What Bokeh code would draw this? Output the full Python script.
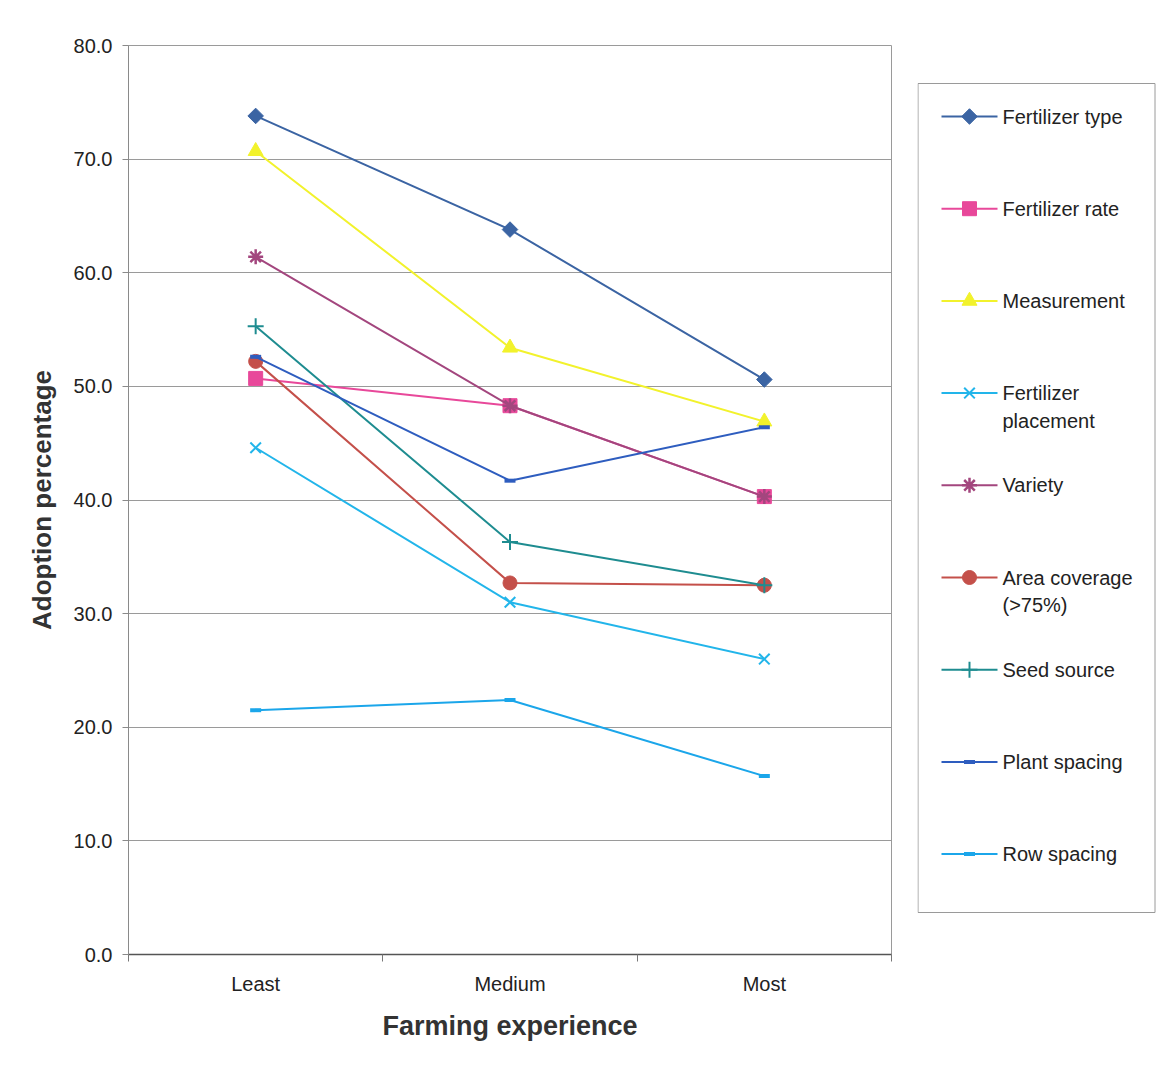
from bokeh.plotting import figure
from bokeh.layouts import row
from bokeh.models import Range1d, FixedTicker, NumeralTickFormatter
from bokeh.embed import file_html
from bokeh.resources import INLINE
from bokeh.core.properties import value

# ---- data -------------------------------------------------------------
experience = ["Least", "Medium", "Most"]
y_ticks = [0, 10, 20, 30, 40, 50, 60, 70, 80]

series_names = [
    "Fertilizer type", "Fertilizer rate", "Measurement",
    "Fertilizer placement", "Variety", "Area coverage (>75%)",
    "Seed source", "Plant spacing", "Row spacing",
]
legend_labels = [
    "Fertilizer type", "Fertilizer rate", "Measurement",
    "Fertilizer\nplacement", "Variety", "Area coverage\n(>75%)",
    "Seed source", "Plant spacing", "Row spacing",
]
fertilizer_type = [73.8, 63.8, 50.6]
fertilizer_rate = [50.7, 48.3, 40.3]
measurement = [70.7, 53.4, 46.9]
fertilizer_placement = [44.6, 31.0, 26.0]
variety = [61.4, 48.3, 40.3]
area_coverage = [52.2, 32.7, 32.5]
seed_source = [55.3, 36.3, 32.5]
plant_spacing = [52.6, 41.7, 46.4]
row_spacing = [21.5, 22.4, 15.7]

series_values = [fertilizer_type, fertilizer_rate, measurement,
                 fertilizer_placement, variety, area_coverage,
                 seed_source, plant_spacing, row_spacing]

# each category sits in the middle of its own unit-wide bin
n_cat = len(experience)
x_pos = [i + 0.5 for i in range(n_cat)]

# ---- styles -------------------------------------------------------------
FONT = "Liberation Sans"
colors = ["#3B64A3", "#E8489A", "#F2F22C", "#22B5EA", "#A3467E",
          "#C4504A", "#1E8C90", "#2E5DBF", "#1BA6EA"]
markers = [
    dict(marker="square", size=11, angle=0.785398, line_width=1),   # diamond
    dict(marker="square", size=14, angle=0.0, line_width=1),
    dict(marker="triangle", size=15, angle=0.0, line_width=1),
    dict(marker="x", size=15, angle=0.0, line_width=2),
    dict(marker="asterisk", size=15, angle=0.0, line_width=2.5),
    dict(marker="circle", size=14, angle=0.0, line_width=1),
    dict(marker="cross", size=16, angle=0.0, line_width=2),
    dict(marker="dash", size=11, angle=0.0, line_width=4),
    dict(marker="dash", size=11, angle=0.0, line_width=4),
]

BORDER_TOP, BORDER_BOTTOM = 45, 115

# ---- main chart -----------------------------------------------------------
p = figure(
    width=917, height=1069,
    x_range=Range1d(0, n_cat), y_range=Range1d(0, 80),
    output_backend="svg", toolbar_location=None,
    min_border_left=128, min_border_right=26,
    min_border_top=BORDER_TOP, min_border_bottom=BORDER_BOTTOM,
    background_fill_color="white", border_fill_color="white",
    outline_line_color="#9a9a9a", outline_line_width=1,
)

xax = p.xaxis[0]
xax.ticker = FixedTicker(ticks=x_pos, minor_ticks=list(range(n_cat + 1)))
xax.major_label_overrides = {x: name for x, name in zip(x_pos, experience)}
xax.major_tick_out = 0
xax.major_tick_in = 0
xax.minor_tick_out = 7
xax.minor_tick_in = 0
xax.minor_tick_line_color = "#777777"
xax.axis_line_color = "#555555"
xax.axis_line_width = 1.5
xax.major_label_standoff = 11
xax.major_label_text_font = FONT
xax.major_label_text_font_size = "20px"
xax.major_label_text_color = "#222222"
xax.axis_label = "Farming experience"
xax.axis_label_text_font = FONT
xax.axis_label_text_font_size = "27px"
xax.axis_label_text_font_style = "bold"
xax.axis_label_text_color = "#333333"
xax.axis_label_standoff = 13
p.xgrid.visible = False

yax = p.yaxis[0]
yax.ticker = FixedTicker(ticks=y_ticks)
yax.formatter = NumeralTickFormatter(format="0.0")
yax.axis_label = "Adoption percentage"
yax.axis_label_text_font = FONT
yax.axis_label_text_font_size = "26px"
yax.axis_label_text_font_style = "bold"
yax.axis_label_text_color = "#333333"
yax.axis_label_standoff = 14
yax.major_label_text_font = FONT
yax.major_label_text_font_size = "20px"
yax.major_label_text_color = "#222222"
yax.major_label_standoff = 10
yax.major_tick_out = 6
yax.major_tick_in = 0
yax.minor_tick_out = 0
yax.minor_tick_in = 0
yax.axis_line_color = "#8a8a8a"
yax.major_tick_line_color = "#8a8a8a"

p.ygrid.grid_line_color = "#9a9a9a"
p.ygrid.grid_line_width = 1

for vals, col, mk in zip(series_values, colors, markers):
    p.line(x_pos, vals, line_color=col, line_width=2)
    p.scatter(x_pos, vals, marker=mk["marker"], size=mk["size"],
              angle=mk["angle"], fill_color=col, line_color=col,
              line_width=mk["line_width"])

# ---- legend panel -----------------------------------------------------------
# pixel-like coordinates, origin at the top-left of the panel's frame
panel_h = 1069 - BORDER_TOP - BORDER_BOTTOM
lg = figure(
    width=241, height=1069,
    x_range=Range1d(0, 241), y_range=Range1d(panel_h, 0),
    x_axis_type=None, y_axis_type=None,
    output_backend="svg", toolbar_location=None,
    min_border_left=0, min_border_right=0,
    min_border_top=BORDER_TOP, min_border_bottom=BORDER_BOTTOM,
    background_fill_color="white", border_fill_color="white",
    outline_line_color=None,
)
lg.xgrid.visible = False
lg.ygrid.visible = False

box_top, box_bottom, box_left, box_right = 38, 867, 0.5, 237.5
lg.quad(left=[box_left], right=[box_right], top=[box_top], bottom=[box_bottom],
        fill_color="white", line_color="#9a9a9a", line_width=1)

first_y, step = 71, 92.2
item_y = [first_y + i * step for i in range(len(legend_labels))]

for yc, col, mk in zip(item_y, colors, markers):
    lg.segment(x0=[24], y0=[yc], x1=[80], y1=[yc], line_color=col, line_width=2)
    lg.scatter([52], [yc], marker=mk["marker"], size=mk["size"],
               angle=mk["angle"], fill_color=col, line_color=col,
               line_width=mk["line_width"])

lg.text(x=[85] * len(legend_labels), y=[yc - 11 for yc in item_y],
        text=legend_labels, text_baseline="top", text_align="left",
        text_font=value(FONT), text_font_size="20px",
        text_color="#222222", text_line_height=1.25)

layout = row(p, lg, spacing=0)
open("out.html", "w").write(file_html(layout, INLINE))
